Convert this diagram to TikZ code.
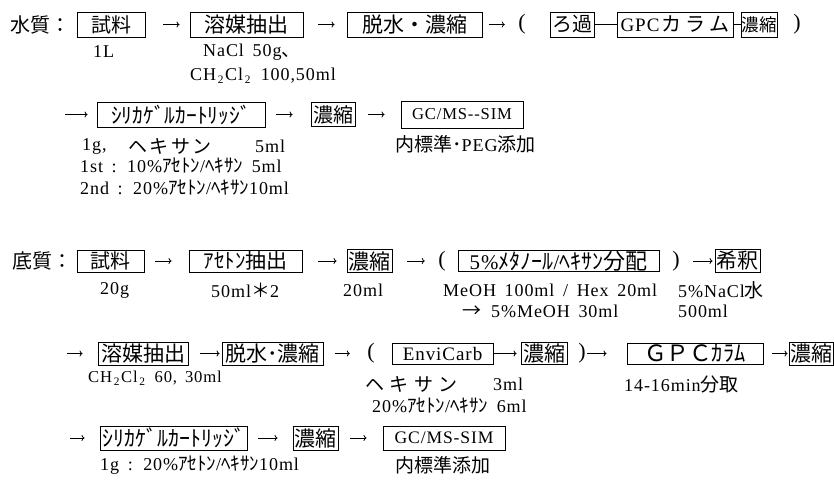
\documentclass[tikz,border=0pt]{standalone}
\usepackage{fontspec}
\setmainfont{Noto Sans CJK JP}
\newfontfamily\mono[Scale=0.95, LetterSpace=5, WordSpace=1.6]{Liberation Serif}
\newfontfamily\serif{Liberation Serif}
\usetikzlibrary{arrows.meta}
\newcommand\M[1]{{\mono #1}}
\newcommand\fs[1]{\fontsize{#1}{#1}\selectfont}
\newcommand\subtwo{\makebox[9pt][c]{\raisebox{-3pt}{\fs{12}\mono 2}}}
\begin{document}
\begin{tikzpicture}[x=1pt,y=-1pt,
  bx/.style={draw, line width=0.9pt, inner sep=0pt},
  ann/.style={anchor=west, inner sep=0pt, font=\fs{19}},
  lab/.style={anchor=west, inner sep=0pt, font=\fs{20}},
  paren/.style={inner sep=0pt, font=\serif\fs{22}},
  arr/.style={line width=0.8pt, -{To[length=3pt,width=6pt]}},
  lnk/.style={line width=0.8pt}]
\fill[white] (0,0) rectangle (834,480);
\useasboundingbox (0,0) rectangle (834,480);

% ---------- row 1 ----------
\node[lab] (lw) at (10,24.5) {水質：};
\node[bx, minimum width=68pt, minimum height=25pt, font=\fs{20}] (b1) at (111,24.5) {試料};
\node[bx, minimum width=113pt, minimum height=25pt, font=\fs{21}] (b2) at (246.5,24.5) {溶媒抽出};
\node[bx, minimum width=135pt, minimum height=25pt, font=\fs{21}] (b3) at (414.5,24.5) {脱水・濃縮};
\node[paren] (p1) at (522,24.5) {(};
\node[bx, minimum width=44pt, minimum height=25pt, font=\fs{20}] (b4) at (572,24.5) {ろ過};
\node[bx, minimum width=116pt, minimum height=25pt, font=\fs{20}] (b5) at (675,24.5) {\M{GPC}\hspace{2pt}カ\hspace{4pt}ラ\hspace{4pt}ム};
\node[bx, minimum width=36pt, minimum height=25pt, font=\fs{17.5}] (b6) at (759,24.5) {濃縮};
\node[paren] (p2) at (797,24.5) {)};
\draw[arr, shorten <=18pt, shorten >=10pt] (b1) -- (b2);
\draw[arr, shorten <=15pt, shorten >=12pt] (b2) -- (b3);
\draw[arr, shorten <=7pt, shorten >=13.35pt] (b3) -- (p1);
\draw[lnk] (b4) -- (b5);
\draw[lnk] (b5) -- (b6);

\node[ann] (t1) at (93,52) {\M{1L}};
\node[ann] (t2) at (203,52) {\M{NaCl 50g}、};
\node[ann] (t3) at (190,76) {\M{CH}\subtwo\M{Cl}\subtwo\M{ 100,50ml}};

% ---------- row 2 ----------
\coordinate (r2) at (65,114.5);
\node[bx, minimum width=168pt, minimum height=25pt, font=\fs{21.5}] (b7) at (181,114.5) {ｼﾘｶｹﾞﾙｶｰﾄﾘｯｼﾞ};
\node[bx, minimum width=44pt, minimum height=24pt, font=\fs{20}] (b8) at (333,114.5) {濃縮};
\node[bx, minimum width=122pt, minimum height=27pt, font=\fs{17.5}] (b9) at (462,114.5) {\M{GC/MS-{}-SIM}};
\draw[arr, shorten >=9pt] (r2) -- (b7);
\draw[arr, shorten <=11pt, shorten >=18pt] (b7) -- (b8);
\draw[arr, shorten <=13pt, shorten >=16pt] (b8) -- (b9);

\node[ann] (t4a) at (82,146) {\M{1g,}};
\node[ann] (t4b) at (128,146) {ヘ\hspace{2.5pt}キ\hspace{2.5pt}サ\hspace{2.5pt}ン};
\node[ann] (t4c) at (255,146) {\M{5ml}};
\node[ann] (t5) at (80,166) {\M{1st : 10\%}ｱｾﾄﾝ\M{/}ﾍｷｻﾝ\M{ 5ml}};
\node[ann] (t6) at (80,188) {\M{2nd : 20\%}ｱｾﾄﾝ\M{/}ﾍｷｻﾝ\M{10ml}};
\node[ann] (t7) at (395,144) {内標準･\M{PEG}添加};

% ---------- row 3 ----------
\node[lab] (lb) at (12,261) {底質：};
\node[bx, minimum width=67pt, minimum height=22pt, font=\fs{20}] (b10) at (110.5,261) {試料};
\node[bx, minimum width=113pt, minimum height=22pt, font=\fs{21}] (b11) at (245.5,261) {ｱｾﾄﾝ抽出};
\node[bx, minimum width=45pt, minimum height=23pt, font=\fs{21}] (b12) at (369.5,261) {濃縮};
\node[paren] (p3) at (442,261) {(};
\node[bx, minimum width=201pt, minimum height=21pt, font=\fs{22}] (b13) at (558.5,261) {\M{5\%}ﾒﾀﾉｰﾙ\M{/}ﾍｷｻﾝ分配};
\node[paren] (p4) at (676,261) {)};
\node[bx, minimum width=45pt, minimum height=23pt, font=\fs{21}] (b14) at (737.5,261) {希釈};
\draw[arr, shorten <=11pt, shorten >=17pt] (b10) -- (b11);
\draw[arr, shorten <=16pt, shorten >=10pt] (b11) -- (b12);
\draw[arr, shorten <=15pt, shorten >=13.35pt] (b12) -- (p3);
\draw[arr, shorten <=13.35pt, shorten >=2pt] (p4) -- (b14);

\node[ann] (t8) at (100,290) {\M{20g}};
\node[ann] (t9) at (211,290) {\M{50ml}＊\M{2}};
\node[ann] (t10) at (343,290) {\M{20ml}};
\node[ann] (t11) at (443,290) {\M{MeOH 100ml / Hex 20ml}};
\node[ann] (t12) at (462,311) {→\hspace{10pt}\M{5\%MeOH 30ml}};
\node[ann] (t13) at (678,290) {\M{5\%NaCl}水};
\node[ann] (t14) at (678,311) {\M{500ml}};

% ---------- row 4 ----------
\coordinate (r4) at (67,353.5);
\node[bx, minimum width=90pt, minimum height=23pt, font=\fs{21}] (b15) at (143,353.5) {溶媒抽出};
\node[bx, minimum width=101pt, minimum height=23pt, font=\fs{21}] (b16) at (272.5,353.5) {脱水･濃縮};
\node[paren] (p5) at (371,353.5) {(};
\node[bx, minimum width=101pt, minimum height=21pt, font=\fs{20}] (b17) at (442.5,353.5) {\M{EnviCarb}};
\node[bx, minimum width=46pt, minimum height=22pt, font=\fs{21}] (b18) at (544,353.5) {濃縮};
\node[paren] (p6) at (582,353.5) {)};
\node[bx, minimum width=136pt, minimum height=21pt, font=\fs{22.5}] (b19) at (695,353.5) {ＧＰＣｶﾗﾑ};
\node[bx, minimum width=44pt, minimum height=23pt, font=\fs{21}] (b20) at (811,353.5) {濃縮};
\draw[arr, shorten >=15pt] (r4) -- (b15);
\draw[arr, shorten <=12pt, shorten >=2pt] (b15) -- (b16);
\draw[arr, shorten <=12pt, shorten >=17.35pt] (b16) -- (p5);
\draw[arr, shorten >=4pt] (b17) -- (b18);
\draw[arr, shorten <=1.35pt, shorten >=20pt] (p6) -- (b19);
\draw[arr, shorten <=9pt, shorten >=1pt] (b19) -- (b20);

\node[anchor=west, inner sep=0pt, font=\fs{17.5}] (t15) at (88,378) {\M{CH}\subtwo\M{Cl}\subtwo\M{ 60, 30ml}};
\node[ann] (t16) at (365,384) {ヘ\hspace{5.5pt}キ\hspace{5.5pt}サ\hspace{5.5pt}ン};
\node[ann] (t17) at (493,384) {\M{3ml}};
\node[ann] (t18) at (372,406) {\M{20\%}ｱｾﾄﾝ\M{/}ﾍｷｻﾝ\M{ 6ml}};
\node[ann] (t19) at (624,384) {\M{14-16min}分取};

% ---------- row 5 ----------
\coordinate (r5) at (70,438);
\node[bx, minimum width=147pt, minimum height=24pt, font=\fs{22}] (b21) at (173.5,438) {ｼﾘｶｹﾞﾙｶｰﾄﾘｯｼﾞ};
\node[bx, minimum width=45pt, minimum height=24pt, font=\fs{21}] (b22) at (315.5,438) {濃縮};
\node[bx, minimum width=122pt, minimum height=24pt, font=\fs{18.5}] (b23) at (444,438) {\M{GC/MS-SIM}};
\draw[arr, shorten >=15pt] (r5) -- (b21);
\draw[arr, shorten <=11pt, shorten >=15pt] (b21) -- (b22);
\draw[arr, shorten <=12pt, shorten >=16pt] (b22) -- (b23);

\node[ann] (t20) at (100,465) {\M{1g : 20\%}ｱｾﾄﾝ\M{/}ﾍｷｻﾝ\M{10ml}};
\node[ann] (t21) at (395,465) {内標準添加};
\end{tikzpicture}
\end{document}
